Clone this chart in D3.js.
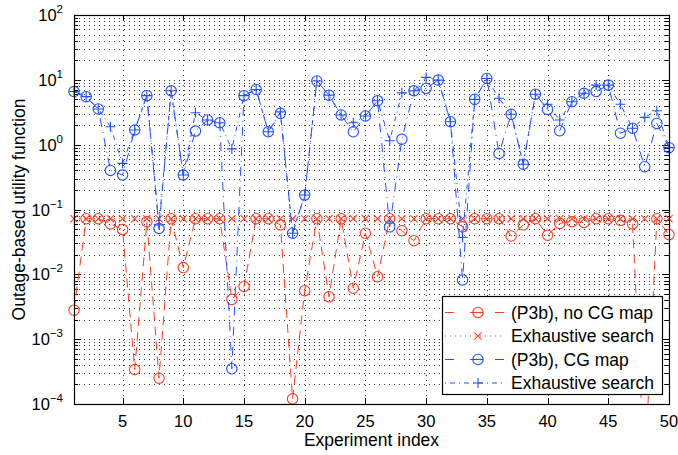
<!DOCTYPE html>
<html>
<head>
<meta charset="utf-8">
<script src="https://cdn.jsdelivr.net/npm/d3@7"></script>
<style>
  body { margin: 0; background: #fff; }
  text { font-family: "Liberation Sans", Arial, Helvetica, sans-serif; fill: #000; }
</style>
</head>
<body>
<svg id="chart" width="678" height="455"></svg>
<script>
// experiment index 1..50
const experiments = d3.range(1, 51);

// (P3b), no CG map
const p3bNoCG = [0.0028, 0.072, 0.072, 0.060, 0.049, 0.00034, 0.065, 0.00025, 0.072, 0.0127,
    0.072, 0.072, 0.072, 0.0041, 0.0065, 0.072, 0.072, 0.058, 0.00012, 0.0056,
    0.072, 0.0045, 0.072, 0.0061, 0.043, 0.0092, 0.072, 0.047, 0.033, 0.072,
    0.072, 0.072, 0.054, 0.072, 0.072, 0.072, 0.039, 0.058, 0.072, 0.040,
    0.061, 0.065, 0.063, 0.072, 0.072, 0.068, 0.060, 0.000009, 0.072, 0.041];

// exhaustive search, no CG map
const exhaustiveNoCG = [0.072, 0.072, 0.072, 0.072, 0.072, 0.072, 0.072, 0.072, 0.072, 0.072,
    0.072, 0.072, 0.072, 0.072, 0.072, 0.072, 0.072, 0.072, 0.072, 0.072,
    0.072, 0.072, 0.072, 0.072, 0.072, 0.072, 0.072, 0.072, 0.072, 0.072,
    0.072, 0.072, 0.072, 0.072, 0.072, 0.072, 0.072, 0.072, 0.072, 0.072,
    0.072, 0.072, 0.072, 0.072, 0.072, 0.072, 0.072, 0.072, 0.072, 0.072];

// (P3b), CG map
const p3bCG = [6.6, 5.5, 3.55, 0.40, 0.34, 1.68, 5.7, 0.051, 6.8, 0.34,
    1.62, 2.4, 2.18, 0.00035, 5.7, 7.1, 1.58, 3.04, 0.043, 0.167,
    9.6, 5.8, 2.87, 1.58, 2.77, 4.77, 0.054, 1.21, 6.8, 7.4,
    9.9, 2.26, 0.0082, 5.0, 10.5, 0.73, 2.94, 0.50, 6.0, 3.5,
    1.64, 4.6, 6.2, 6.6, 8.3, 1.5, 1.79, 0.457, 2.13, 0.90];

// exhaustive search, CG map
const exhaustiveCG = [6.6, 5.5, 3.55, 1.89, 0.515, 1.68, 5.7, 0.058, 6.8, 0.34,
    3.1, 2.4, 2.18, 0.86, 5.7, 7.1, 1.58, 3.2, 0.043, 0.167,
    9.6, 5.8, 2.87, 2.18, 2.77, 4.77, 1.15, 6.3, 6.8, 10.9,
    9.9, 2.26, 0.037, 5.0, 10.5, 5.2, 2.94, 0.50, 6.0, 4.2,
    2.4, 4.6, 6.2, 8.3, 8.3, 4.2, 1.79, 2.64, 3.34, 0.90];

const xTicks = [5, 10, 15, 20, 25, 30, 35, 40, 45, 50];
const yExponents = [-4, -3, -2, -1, 0, 1, 2];
const legendLabels = ["(P3b), no CG map", "Exhaustive search", "(P3b), CG map", "Exhaustive search"];

const red = "#ff3d1f", blue = "#2150ff";

const series = [
    {values: p3bNoCG, color: red, dash: "9,6", marker: "circle"},
    {values: exhaustiveNoCG, color: red, dash: "1,4", marker: "x"},
    {values: p3bCG, color: blue, dash: "9,5,1,5", marker: "circle"},
    {values: exhaustiveCG, color: blue, dash: "1,4,5,4", marker: "plus"}
];

const svg = d3.select("#chart");
const plotL = 74, plotR = 669, plotT = 15, plotB = 404;

const x = d3.scaleLinear().domain([1, 50]).range([plotL, plotR]);
const y = d3.scaleLog().domain([1e-4, 1e2]).range([plotB, plotT]);

// clip for the lines
svg.append("defs").append("clipPath").attr("id", "plotClip")
    .append("rect").attr("x", plotL).attr("y", plotT)
    .attr("width", plotR - plotL).attr("height", plotB - plotT);

// grid (dotted, on every log tick)
const grid = svg.append("g").attr("class", "grid");
const minorVals = [];
yExponents.slice(0, -1).forEach(e => {
    for (let m = 1; m <= 9; m++) minorVals.push(m * Math.pow(10, e));
});
minorVals.push(100);
grid.selectAll("line.h")
    .data(minorVals.filter(v => v > 1e-4 && v < 100))
    .enter().append("line")
    .attr("x1", plotL).attr("x2", plotR)
    .attr("y1", d => Math.round(y(d)) + 0.5).attr("y2", d => Math.round(y(d)) + 0.5)
    .attr("stroke", "#333").attr("stroke-width", 1)
    .attr("stroke-dasharray", "1,4");
grid.selectAll("line.v")
    .data(xTicks.filter(d => d < 50))
    .enter().append("line")
    .attr("x1", d => Math.round(x(d)) + 0.5).attr("x2", d => Math.round(x(d)) + 0.5)
    .attr("y1", plotT).attr("y2", plotB)
    .attr("stroke", "#333").attr("stroke-width", 1)
    .attr("stroke-dasharray", "1,4");

// ticks
const ticks = svg.append("g").attr("stroke", "#000").attr("stroke-width", 1);
xTicks.forEach(t => {
    const px = Math.round(x(t)) + 0.5;
    ticks.append("line").attr("x1", px).attr("x2", px).attr("y1", plotB).attr("y2", plotB - 6);
    ticks.append("line").attr("x1", px).attr("x2", px).attr("y1", plotT).attr("y2", plotT + 6);
});
minorVals.forEach(v => {
    const major = Math.abs(Math.log10(v) - Math.round(Math.log10(v))) < 1e-9;
    const len = major ? 7 : 4;
    const py = Math.round(y(v)) + 0.5;
    ticks.append("line").attr("x1", plotL).attr("x2", plotL + len).attr("y1", py).attr("y2", py);
    ticks.append("line").attr("x1", plotR).attr("x2", plotR - len).attr("y1", py).attr("y2", py);
});

// data lines and markers
const line = d3.line()
    .x((d, i) => x(experiments[i]))
    .y(d => y(d));

const dataG = svg.append("g");
function drawMarker(g, kind, cx, cy, color) {
    if (kind === "circle") {
        g.append("circle").attr("cx", cx).attr("cy", cy).attr("r", 5.2)
            .attr("fill", "none").attr("stroke", color).attr("stroke-width", 1.1);
    } else if (kind === "x") {
        const s = 3.6;
        g.append("path")
            .attr("d", `M${cx - s},${cy - s}L${cx + s},${cy + s}M${cx - s},${cy + s}L${cx + s},${cy - s}`)
            .attr("stroke", color).attr("stroke-width", 1.1);
    } else {
        const s = 5;
        g.append("path")
            .attr("d", `M${cx - s},${cy}L${cx + s},${cy}M${cx},${cy - s}L${cx},${cy + s}`)
            .attr("stroke", color).attr("stroke-width", 1.1);
    }
}

series.forEach(s => {
    dataG.append("path")
        .datum(s.values)
        .attr("clip-path", "url(#plotClip)")
        .attr("d", line)
        .attr("fill", "none")
        .attr("stroke", s.color)
        .attr("stroke-width", 1)
        .attr("stroke-dasharray", s.dash);
    const mg = dataG.append("g");
    s.values.forEach((v, i) => {
        if (v < 1e-4 || v > 1e2) return;
        drawMarker(mg, s.marker, x(experiments[i]), y(v), s.color);
    });
});

// axes box
svg.append("rect")
    .attr("x", plotL + 0.5).attr("y", plotT + 0.5)
    .attr("width", plotR - plotL).attr("height", plotB - plotT)
    .attr("fill", "none").attr("stroke", "#000").attr("stroke-width", 1.2);

// tick labels
svg.selectAll("text.xt")
    .data(xTicks)
    .enter().append("text")
    .attr("x", d => x(d))
    .attr("y", 427)
    .attr("text-anchor", "middle")
    .attr("font-size", 16.5)
    .text(d => d);

const yLabels = svg.selectAll("text.yt")
    .data(yExponents)
    .enter().append("text")
    .attr("x", 63)
    .attr("y", d => y(Math.pow(10, d)) + 6)
    .attr("text-anchor", "end")
    .attr("font-size", 16.5);
yLabels.append("tspan").text("10");
yLabels.append("tspan")
    .attr("dy", -8)
    .attr("font-size", 11.5)
    .text(d => d < 0 ? "\u2212" + Math.abs(d) : d);

// axis titles
svg.append("text")
    .attr("x", (plotL + plotR) / 2)
    .attr("y", 446)
    .attr("text-anchor", "middle")
    .attr("font-size", 17.5)
    .text("Experiment index");

svg.append("text")
    .attr("transform", `translate(25,${(plotT + plotB) / 2}) rotate(-90)`)
    .attr("text-anchor", "middle")
    .attr("font-size", 17.5)
    .text("Outage-based utility function");

// legend
const legend = svg.append("g");
legend.append("rect")
    .attr("x", 442.5).attr("y", 296.5)
    .attr("width", 220).attr("height", 98)
    .attr("fill", "#fff").attr("stroke", "#000").attr("stroke-width", 1.2);

const legendDash = ["9,16", "1,4", "9,16", "1,4,5,4"];
series.forEach((s, i) => {
    const ly = 312.5 + i * 23.5;
    legend.append("line")
        .attr("x1", 445).attr("x2", 504)
        .attr("y1", ly).attr("y2", ly)
        .attr("stroke", s.color).attr("stroke-width", 1)
        .attr("stroke-dasharray", legendDash[i]);
    if (s.marker === "circle") {
        legend.append("line").attr("x1", 473).attr("x2", 483).attr("y1", ly).attr("y2", ly)
            .attr("stroke", s.color).attr("stroke-width", 1.1);
    }
    drawMarker(legend, s.marker, 478, ly, s.color);
    legend.append("text")
        .attr("x", 511)
        .attr("y", ly + 6)
        .attr("font-size", 17.5)
        .text(legendLabels[i]);
});
</script>
</body>
</html>
